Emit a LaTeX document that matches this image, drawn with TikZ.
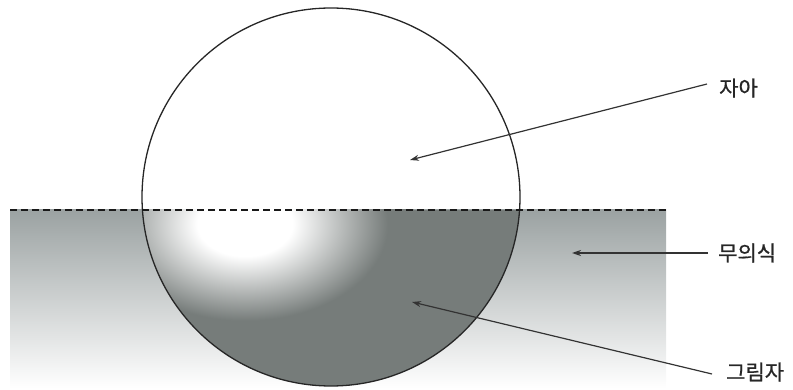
\documentclass[tikz,border=0pt]{standalone}
\usepackage{fontspec}
\newfontfamily\krfont[FakeBold=0.8]{Noto Sans CJK KR}
\usetikzlibrary{arrows.meta}
\definecolor{shadowgray}{RGB}{118,124,122}
\definecolor{seagray}{RGB}{155,162,162}
\pgfdeclareradialshading{glow}{\pgfpoint{0bp}{0bp}}{%
  color(0bp)=(white); color(7bp)=(white); color(21bp)=(shadowgray); color(50bp)=(shadowgray)}
\tikzset{
  lbl/.style={font=\krfont\fontsize{21}{21}\selectfont, text=black!85, inner sep=0pt},
  pointer/.style={draw=black!80, line width=1.2pt, -{Stealth[length=9pt,width=6pt]}},
  waterline/.style={draw=black!90, line width=1.6pt, dash pattern=on 7pt off 4pt}
}
\begin{document}
\begin{tikzpicture}[x=1pt,y=-1pt]
\useasboundingbox (0,0) rectangle (793,390);
% unconscious layer
\shade[top color=seagray, bottom color=white, shading angle=0] (10,210) rectangle (666,388);
% shadow: lower part of ego circle
\begin{scope}
  \clip (331,197) circle (189);
  \clip (0,210) rectangle (793,390);
  \fill[shadowgray] (0,210) rectangle (793,390);
  \shade[shading=glow] (245,224) ellipse [x radius=170, y radius=115];
\end{scope}
% ego circle
\node[circle, draw=black!85, line width=1.3pt, minimum size=378pt, inner sep=0pt] (ego) at (331,197) {};
% water line
\coordinate (wl) at (10,210);
\coordinate (wr) at (666,210);
\draw[waterline] (wl) -- (wr);
% labels
\node[lbl, anchor=west] (egolbl) at (719,88) {자아};
\node[lbl, anchor=west] (unclbl) at (718,253) {무의식};
\node[lbl, anchor=west] (shdlbl) at (726,372) {그림자};
% arrow targets
\coordinate (egopt) at (410,160);
\coordinate (uncpt) at (572,253);
\coordinate (shdpt) at (412,302);
\draw[pointer] ([xshift=-12pt,yshift=4pt]egolbl.west) -- (egopt);
\draw[pointer] ([xshift=-10pt]unclbl.west) -- (uncpt);
\draw[pointer] ([xshift=-14pt,yshift=-2pt]shdlbl.west) -- (shdpt);
\end{tikzpicture}
\end{document}
